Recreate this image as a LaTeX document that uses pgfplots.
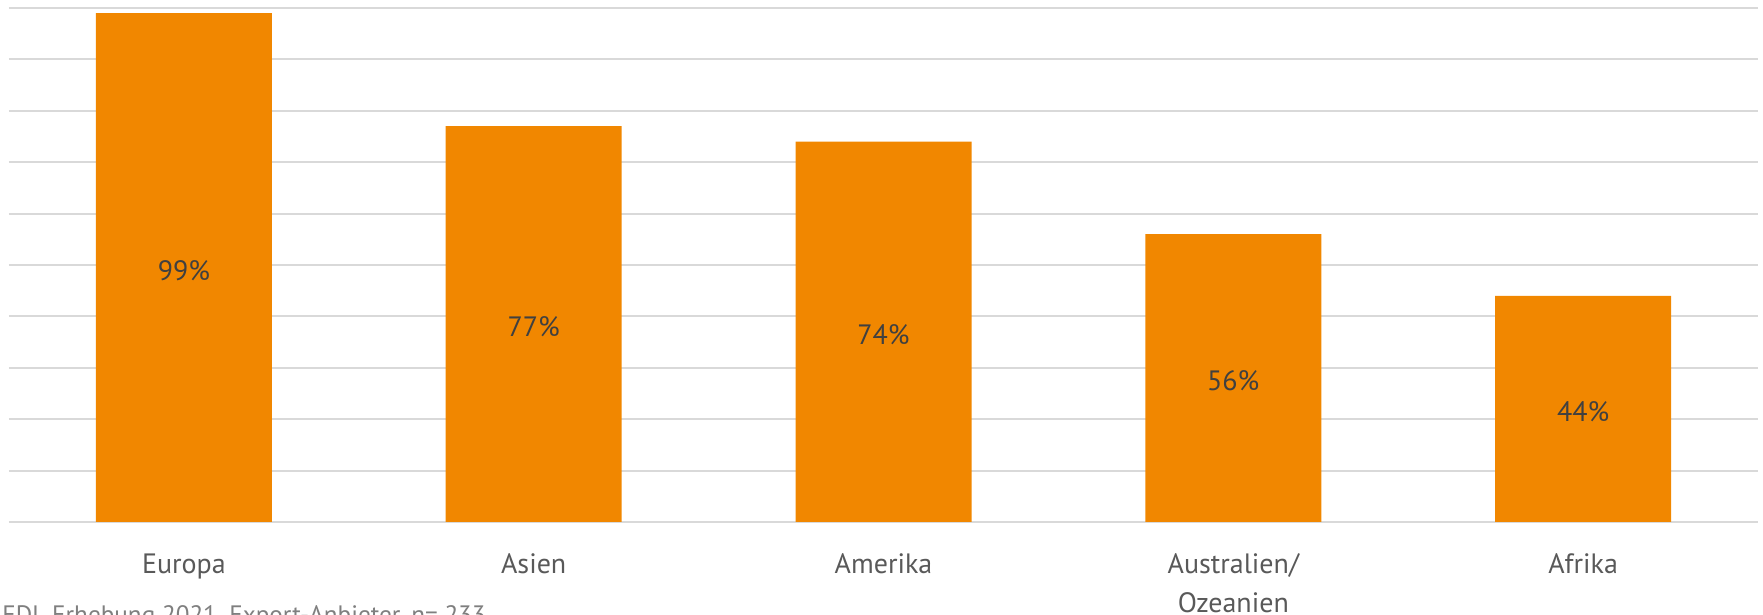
\documentclass[border=0pt]{standalone}
\usepackage{pgfplots}
\pgfplotsset{compat=1.18}
\usepackage{fontspec}
\setmainfont{PT Sans}
\definecolor{barorange}{HTML}{F18700}
\definecolor{gridgray}{HTML}{D9D9D9}
\definecolor{labelgray}{HTML}{595959}
\definecolor{valgray}{HTML}{404040}
\definecolor{notegray}{HTML}{7F7F7F}
\begin{document}
\begin{tikzpicture}
\useasboundingbox (-4.5pt,-46.5pt) rectangle (877pt,261pt);
\clip (-4.5pt,-46.5pt) rectangle (877pt,261pt);
\begin{axis}[
  at={(0,0)}, anchor=south west,
  scale only axis, width=874.5pt, height=257pt,
  xmin=-0.5, xmax=4.5, ymin=0, ymax=100,
  xtick={0,1,2,3,4},
  xticklabels={Europa,Asien,Amerika,{\begin{tabular}[t]{@{}c@{}}Australien/\\Ozeanien\end{tabular}},Afrika},
  xticklabel style={anchor=base, yshift=-26pt,
    font=\fontsize{14}{19.5}\selectfont, text=labelgray},
  ytick={0,10,...,100}, yticklabels={},
  ymajorgrids, grid style={draw=gridgray, line width=1pt},
  axis line style={draw=none}, major tick length=0pt,
  tick style={draw=none},
]
\addplot[ybar, bar width=88pt, fill=barorange, draw=none,
  visualization depends on={y \as \rawy},
  nodes near coords={\pgfmathprintnumber[assume math mode=true]{\pgfplotspointmeta}\%},
  every node near coord/.append style={anchor=center, yshift=-1.285pt*\rawy-1.5pt,
    font=\fontsize{14}{16}\selectfont, text=valgray}]
  coordinates {(0,99) (1,77) (2,74) (3,56) (4,44)};
\end{axis}
\node[anchor=base west, inner sep=0pt, text=notegray, font=\fontsize{12.6}{14}\selectfont]
  at (-3.5pt,-51pt) {EDL Erhebung 2021, Export-Anbieter, n= 233};
\end{tikzpicture}
\end{document}
